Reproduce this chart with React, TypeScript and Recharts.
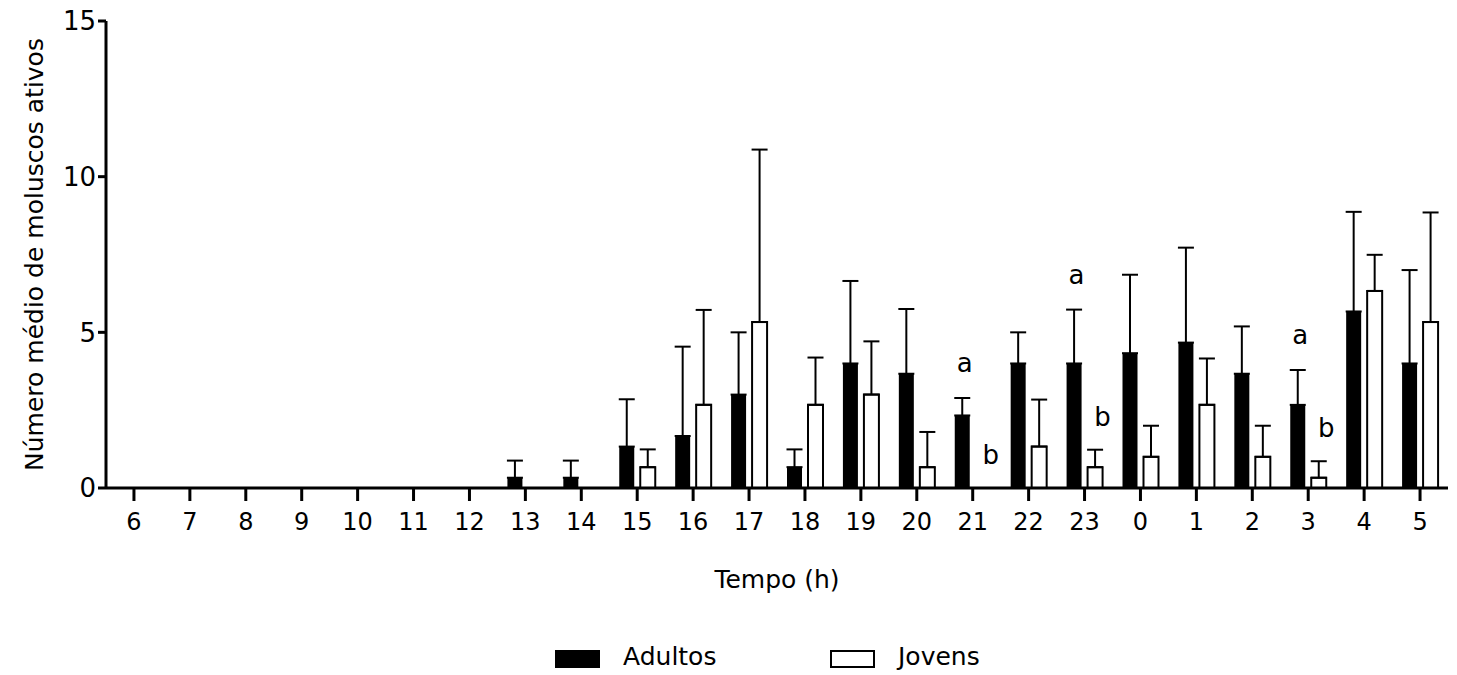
import { Bar, ComposedChart, ErrorBar, Label, Legend, Line, XAxis, YAxis } from "recharts";

const hours = ["6", "7", "8", "9", "10", "11", "12", "13", "14", "15", "16", "17", "18", "19", "20", "21", "22", "23", "0", "1", "2", "3", "4", "5"];

// médias e desvio (só a parte de cima é desenhada)
const adultos = [0, 0, 0, 0, 0, 0, 0, 0.33, 0.33, 1.33, 1.67, 3.0, 0.67, 4.0, 3.67, 2.33, 4.0, 4.0, 4.33, 4.67, 3.67, 2.67, 5.67, 4.0];
const adultosSd = [0, 0, 0, 0, 0, 0, 0, 0.55, 0.55, 1.52, 2.87, 2.0, 0.57, 2.65, 2.08, 0.56, 1.0, 1.73, 2.52, 3.05, 1.52, 1.12, 3.2, 3.0];
const jovens = [0, 0, 0, 0, 0, 0, 0, 0, 0, 0.67, 2.67, 5.33, 2.67, 3.0, 0.67, 0, 1.33, 0.67, 1.0, 2.67, 1.0, 0.33, 6.33, 5.33];
const jovensSd = [0, 0, 0, 0, 0, 0, 0, 0, 0, 0.57, 3.05, 5.54, 1.52, 1.71, 1.13, 0, 1.51, 0.56, 1.0, 1.49, 1.0, 0.53, 1.16, 3.52];

const adultosLetra = ["", "", "", "", "", "", "", "", "", "", "", "", "", "", "", "a", "", "a", "", "", "", "a", "", ""];
const jovensLetra = ["", "", "", "", "", "", "", "", "", "", "", "", "", "", "", "b", "", "b", "", "", "", "b", "", ""];

const yTicks = [0, 5, 10, 15];

const FONT = "'DejaVu Sans', sans-serif";

const data = hours.map((h, i) => ({
  hora: h,
  adultos: adultos[i],
  adultosErr: [0, adultosSd[i]],
  jovens: jovens[i],
  jovensErr: [0, jovensSd[i]],
  adultosTopo: adultosLetra[i] ? adultos[i] + adultosSd[i] : null,
  jovensTopo: jovensLetra[i] ? jovens[i] + jovensSd[i] : null,
}));

const XTick = ({ x, y, payload }: any) => (
  <text x={x} y={y} dy="0.71em" textAnchor="middle" fontFamily={FONT} fontSize={24} fill="#000">
    {payload.value}
  </text>
);

const YTick = ({ x, y, payload }: any) => (
  <text x={x} y={y} dy="0.36em" textAnchor="end" fontFamily={FONT} fontSize={26} fill="#000">
    {payload.value}
  </text>
);

const YTitle = ({ viewBox }: any) => {
  const cx = viewBox.x + 43;
  const cy = viewBox.y + viewBox.height / 2;
  return (
    <text x={cx} y={cy} transform={`rotate(-90, ${cx}, ${cy})`} textAnchor="middle" fontFamily={FONT} fontSize={25} fill="#000">
      Número médio de moluscos ativos
    </text>
  );
};

const letter = (letters: string[], dx: number, dy: number) => (props: any) => {
  const { x, y, index } = props;
  const t = letters[index];
  if (!t || y == null) return null;
  return (
    <text key={`l-${index}-${dx}`} x={x + dx} y={y + dy} textAnchor="middle" fontFamily={FONT} fontSize={26} fill="#000">
      {t}
    </text>
  );
};

const LegendBox = () => (
  <div style={{ position: "relative", height: 40, width: 1457, fontFamily: FONT, fontSize: 25, color: "#000" }}>
    <div style={{ position: "absolute", left: 555, top: 15, width: 45, height: 18, background: "#000" }} />
    <span style={{ position: "absolute", left: 623, top: 7, lineHeight: "29px" }}>Adultos</span>
    <div style={{ position: "absolute", left: 830, top: 15, width: 41, height: 14, border: "2px solid #000", background: "#fff" }} />
    <span style={{ position: "absolute", left: 898, top: 7, lineHeight: "29px" }}>Jovens</span>
  </div>
);

export default function App() {
  return (
    <div style={{ position: "absolute", left: 0, top: 0, width: 1457, height: 675, background: "#fff" }}>
      <ComposedChart width={1457} height={675} data={data} margin={{ top: 21, right: 9, left: 0, bottom: 0 }} barSize={15} barGap={6}>
        <XAxis
          dataKey="hora"
          height={147}
          axisLine={{ stroke: "#000", strokeWidth: 3 }}
          tickLine={{ stroke: "#000", strokeWidth: 3 }}
          tickSize={13}
          tickMargin={12}
          tick={<XTick />}
          interval={0}
        >
          <Label value="Tempo (h)" position="insideBottom" offset={47} fontFamily={FONT} fontSize={25} fill="#000" />
        </XAxis>
        <YAxis
          width={106}
          domain={[0, 15]}
          ticks={yTicks}
          allowDataOverflow
          axisLine={{ stroke: "#000", strokeWidth: 3 }}
          tickLine={{ stroke: "#000", strokeWidth: 3 }}
          tickSize={8}
          tickMargin={2}
          tick={<YTick />}
          label={{ content: YTitle }}
        />
        <Legend verticalAlign="bottom" content={<LegendBox />} wrapperStyle={{ left: 0, bottom: 0, width: 1457 }} />
        <Bar dataKey="adultos" name="Adultos" fill="#000" isAnimationActive={false}>
          <ErrorBar dataKey="adultosErr" direction="y" width={8} stroke="#000" strokeWidth={2} />
        </Bar>
        <Bar dataKey="jovens" name="Jovens" fill="#fff" stroke="#000" strokeWidth={2} isAnimationActive={false}>
          <ErrorBar dataKey="jovensErr" direction="y" width={8} stroke="#000" strokeWidth={2} />
        </Bar>
        <Line
          dataKey="adultosTopo"
          stroke="none"
          dot={false}
          activeDot={false}
          legendType="none"
          isAnimationActive={false}
          label={letter(adultosLetra, -8, -26)}
        />
        <Line
          dataKey="jovensTopo"
          stroke="none"
          dot={false}
          activeDot={false}
          legendType="none"
          isAnimationActive={false}
          label={letter(jovensLetra, 18, -24)}
        />
      </ComposedChart>
    </div>
  );
}
